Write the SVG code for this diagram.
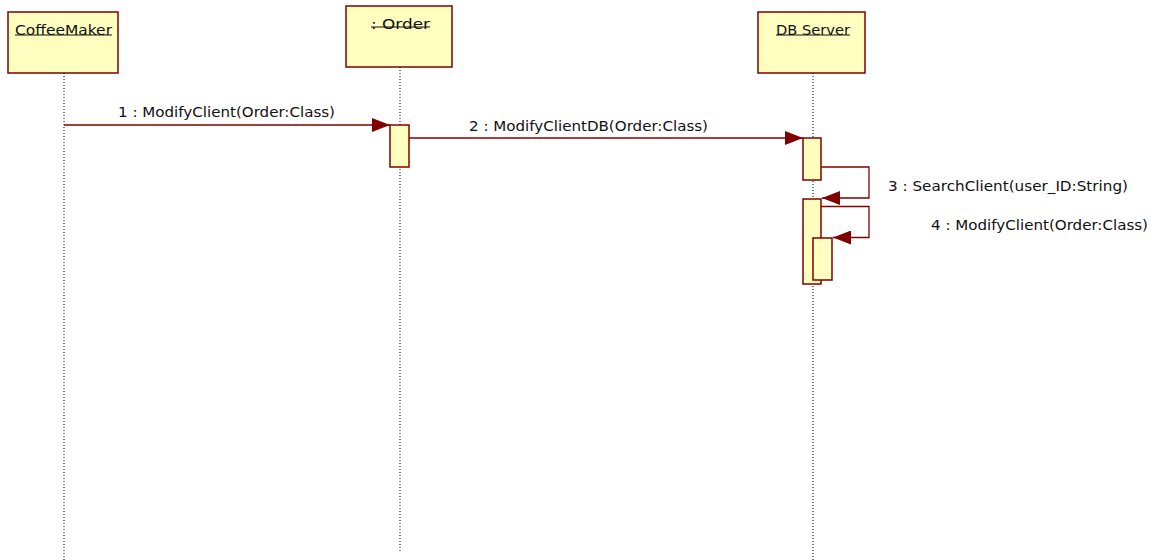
<svg xmlns="http://www.w3.org/2000/svg" width="1161" height="560" viewBox="0 0 1161 560">
<style>
.box{fill:#ffffc0;stroke:#800000;stroke-width:1.5}
.act{fill:#ffffc0;stroke:#800000;stroke-width:1.5}
.life{stroke:#000;stroke-width:1;stroke-dasharray:1,2;fill:none}
.msg{stroke:#800000;stroke-width:1.3;fill:none}
.t{font-family:"DejaVu Sans",Verdana,sans-serif;font-size:14.5px;fill:#111}
.ul{stroke:#111;stroke-width:1}
</style>
<defs>
<marker id="ah" markerWidth="18" markerHeight="14" refX="18" refY="7" orient="auto" markerUnits="userSpaceOnUse">
<path d="M0,0 L18,7 L0,14 Z" fill="#800000"/>
</marker>
</defs>
<rect width="1161" height="560" fill="#fff"/>
<g id="coffeemaker">
<rect class="box" x="8" y="12" width="110" height="61"/>
<text class="t" x="15" y="35" textLength="97" lengthAdjust="spacingAndGlyphs">CoffeeMaker</text>
<line class="ul" x1="15" y1="35" x2="112" y2="35"/>
<line class="life" x1="64" y1="73" x2="64" y2="560"/>
</g>
<g id="order">
<rect class="box" x="346" y="6" width="106" height="61"/>
<text class="t" x="371" y="29" textLength="59" lengthAdjust="spacingAndGlyphs">: Order</text>
<line class="ul" x1="371" y1="27" x2="430" y2="27"/>
<line class="life" x1="400" y1="67" x2="400" y2="553"/>
<rect class="act" x="390" y="125" width="19" height="42"/>
</g>
<g id="dbserver">
<rect class="box" x="758" y="12" width="107" height="61"/>
<text class="t" x="776" y="35" textLength="74" lengthAdjust="spacingAndGlyphs">DB Server</text>
<line class="ul" x1="776" y1="35" x2="850" y2="35"/>
<line class="life" x1="813" y1="73" x2="813" y2="560"/>
<rect class="act" x="803" y="138" width="18" height="42"/>
<rect class="act" x="803" y="199" width="18" height="85"/>
<rect class="act" x="813" y="238" width="19" height="42"/>
</g>
<g id="connectors">
<line class="msg" x1="64" y1="125" x2="390" y2="125" marker-end="url(#ah)"/>
<text class="t" x="118" y="117" textLength="217" lengthAdjust="spacingAndGlyphs">1 : ModifyClient(Order:Class)</text>
<line class="msg" x1="409" y1="138" x2="803" y2="138" marker-end="url(#ah)"/>
<text class="t" x="469" y="131" textLength="239" lengthAdjust="spacingAndGlyphs">2 : ModifyClientDB(Order:Class)</text>
<polyline class="msg" points="821,167 869,167 869,198 822,198" marker-end="url(#ah)"/>
<text class="t" x="888" y="191" textLength="240" lengthAdjust="spacingAndGlyphs">3 : SearchClient(user_ID:String)</text>
<polyline class="msg" points="821,206.5 869,206.5 869,237.5 833,237.5" marker-end="url(#ah)"/>
<text class="t" x="931" y="230" textLength="217" lengthAdjust="spacingAndGlyphs">4 : ModifyClient(Order:Class)</text>
</g>
</svg>
